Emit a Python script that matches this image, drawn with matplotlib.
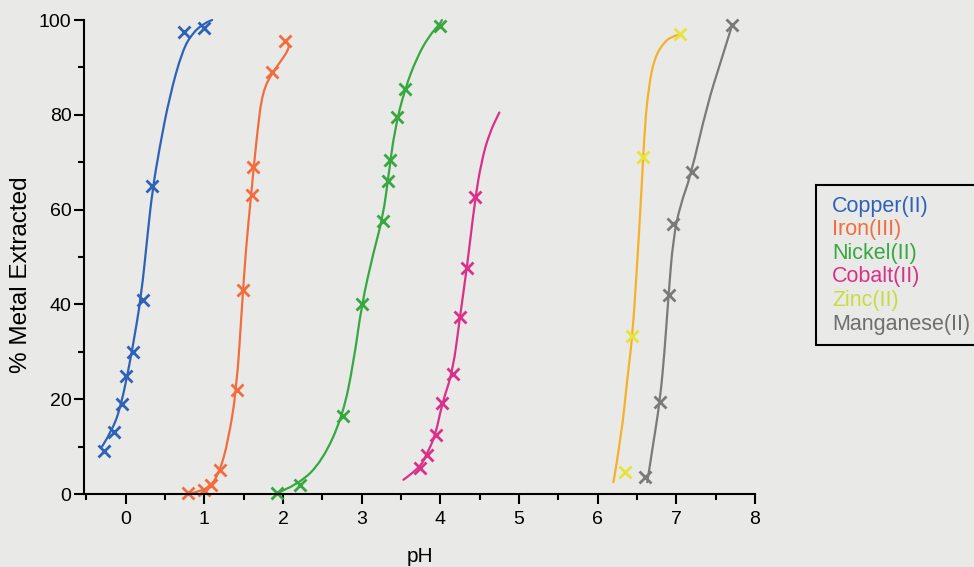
import matplotlib.pyplot as plt
from matplotlib.lines import Line2D
from matplotlib.path import Path
from matplotlib.patches import PathPatch
from matplotlib.ticker import MultipleLocator

plt.rcParams['font.family'] = ['Liberation Sans', 'DejaVu Sans']

# measured points (pH, % extracted)
cu_ph = [-0.28, -0.15, -0.05, 0.01, 0.09, 0.22, 0.33, 0.74, 1.0]
cu_pct = [9, 13, 19, 25, 30, 41, 65, 97.5, 98.3]
fe_ph = [0.79, 1.0, 1.08, 1.2, 1.41, 1.49, 1.6, 1.62, 1.86, 2.02]
fe_pct = [0.2, 0.8, 2, 5, 22, 43, 63, 69, 89, 95.5]
ni_ph = [1.93, 2.21, 2.76, 3.0, 3.27, 3.33, 3.36, 3.45, 3.55, 4.0]
ni_pct = [0.2, 2, 16.5, 40, 57.5, 66, 70.5, 79.5, 85.4, 98.7]
co_ph = [3.74, 3.83, 3.94, 4.02, 4.16, 4.25, 4.34, 4.44]
co_pct = [5.5, 8.2, 12.5, 19.2, 25.4, 37.4, 47.6, 62.6]
zn_ph = [6.35, 6.44, 6.58, 7.05]
zn_pct = [4.7, 33.4, 71, 97]
mn_ph = [6.6, 6.79, 6.9, 6.96, 7.2, 7.71]
mn_pct = [3.6, 19.5, 42, 57, 68, 99]

# hand-drawn fit curves
cu_fit_ph = [-0.3, -0.15, -0.05, 0.02, 0.09, 0.2, 0.28, 0.34, 0.43, 0.56, 0.72, 0.85, 1.0, 1.1]
cu_fit_pct = [10, 14, 19.5, 25, 31, 42, 55, 64, 73, 84, 93.5, 97.3, 99.3, 100]
fe_fit_ph = [0.8, 1.0, 1.1, 1.2, 1.3, 1.41, 1.48, 1.53, 1.6, 1.67, 1.74, 1.87, 1.98, 2.06, 2.08, 2.03]
fe_fit_pct = [0, 0.8, 2, 5, 11, 22, 40, 52, 64, 76, 85, 89, 91.5, 93.5, 94.8, 95.6]
ni_fit_ph = [1.9, 2.2, 2.5, 2.76, 2.9, 3.0, 3.15, 3.27, 3.34, 3.42, 3.55, 3.7, 3.85, 4.0, 4.02]
ni_fit_pct = [0, 2, 7, 16.5, 28, 40, 51, 58.5, 67, 77, 85.5, 92, 96.5, 99.3, 100]
co_fit_ph = [3.53, 3.74, 3.83, 3.94, 4.02, 4.16, 4.25, 4.34, 4.44, 4.52, 4.62, 4.75]
co_fit_pct = [3, 5.5, 8.5, 12.5, 19, 26, 37.5, 48, 62, 70, 76, 80.5]
zn_fit_ph = [6.2, 6.3, 6.38, 6.44, 6.5, 6.56, 6.6, 6.65, 6.72, 6.85, 6.95, 7.05]
zn_fit_pct = [2.5, 12, 25, 33, 48, 65, 78, 86, 92, 95.5, 96.5, 97]
mn_fit_ph = [6.63, 6.7, 6.79, 6.85, 6.9, 6.96, 7.05, 7.18, 7.39, 7.56, 7.71]
mn_fit_pct = [2.5, 10, 19.5, 30, 42, 54, 61, 67, 82, 91, 99]

labels = ['Copper(II)', 'Iron(III)', 'Nickel(II)', 'Cobalt(II)', 'Zinc(II)', 'Manganese(II)']
line_colors = ['#2e62b8', '#f26d3d', '#35a83f', '#d9318a', '#f5b12a', '#7a7a7a']
marker_colors = ['#2e62b8', '#f26d3d', '#35a83f', '#d9318a', '#e6e33a', '#7a7a7a']
text_colors = ['#2e62b8', '#f26d3d', '#35a83f', '#d9318a', '#c9dc3c', '#6e6e6e']

points = [(cu_ph, cu_pct), (fe_ph, fe_pct), (ni_ph, ni_pct),
          (co_ph, co_pct), (zn_ph, zn_pct), (mn_ph, mn_pct)]
fits = [(cu_fit_ph, cu_fit_pct), (fe_fit_ph, fe_fit_pct), (ni_fit_ph, ni_fit_pct),
        (co_fit_ph, co_fit_pct), (zn_fit_ph, zn_fit_pct), (mn_fit_ph, mn_fit_pct)]


def smooth_path(xs, ys):
    # quadratic bezier through midpoints, traced points act as control points
    pts = list(zip(xs, ys))
    verts = [pts[0]]
    codes = [Path.MOVETO]
    for i in range(1, len(pts) - 1):
        mid = ((pts[i][0] + pts[i + 1][0]) / 2, (pts[i][1] + pts[i + 1][1]) / 2)
        verts += [pts[i], mid]
        codes += [Path.CURVE3, Path.CURVE3]
    verts.append(pts[-1])
    codes.append(Path.LINETO)
    return Path(verts, codes)


bg = '#e9e9e7'
fig = plt.figure(figsize=(9.74, 5.67), dpi=100, facecolor=bg)
ax = fig.add_axes([0.0862, 0.1287, 0.689, 0.836], facecolor=bg)

for (fx, fy), (px, py), lc, mc in zip(fits, points, line_colors, marker_colors):
    ax.add_patch(PathPatch(smooth_path(fx, fy), fill=False, edgecolor=lc, lw=1.6,
                           clip_on=False, capstyle='round'))
    ax.plot(px, py, 'x', color=mc, ms=8, mew=2, clip_on=False)

ax.set_xlim(-0.53, 8)
ax.set_ylim(0, 100)
ax.xaxis.set_major_locator(MultipleLocator(1))
ax.xaxis.set_minor_locator(MultipleLocator(0.5))
ax.yaxis.set_major_locator(MultipleLocator(20))
ax.yaxis.set_minor_locator(MultipleLocator(10))
ax.tick_params(which='major', length=7, width=1.5, labelsize=14, pad=2)
ax.tick_params(which='minor', length=4, width=1.5)
ax.tick_params(axis='x', pad=5)
for s in ['top', 'right']:
    ax.spines[s].set_visible(False)
for s in ['left', 'bottom']:
    ax.spines[s].set_linewidth(1.5)

ax.set_xlabel('pH', fontsize=15, labelpad=14)
ax.set_ylabel('% Metal Extracted', fontsize=17.5)
ax.yaxis.set_label_coords(-0.077, 0.462)

handles = [Line2D([], [], linestyle='none') for _ in labels]
leg = ax.legend(handles, labels, loc='upper left', bbox_to_anchor=(0.838, 0.674),
                bbox_transform=fig.transFigure, borderaxespad=0, handlelength=0,
                handletextpad=0.25, labelspacing=0.12, fontsize=15.5, fancybox=False,
                facecolor=bg, edgecolor='black', framealpha=1, borderpad=0.5)
leg.get_frame().set_linewidth(1.5)
for t, c in zip(leg.get_texts(), text_colors):
    t.set_color(c)

fig.savefig('out.png', dpi=100, facecolor=bg)
